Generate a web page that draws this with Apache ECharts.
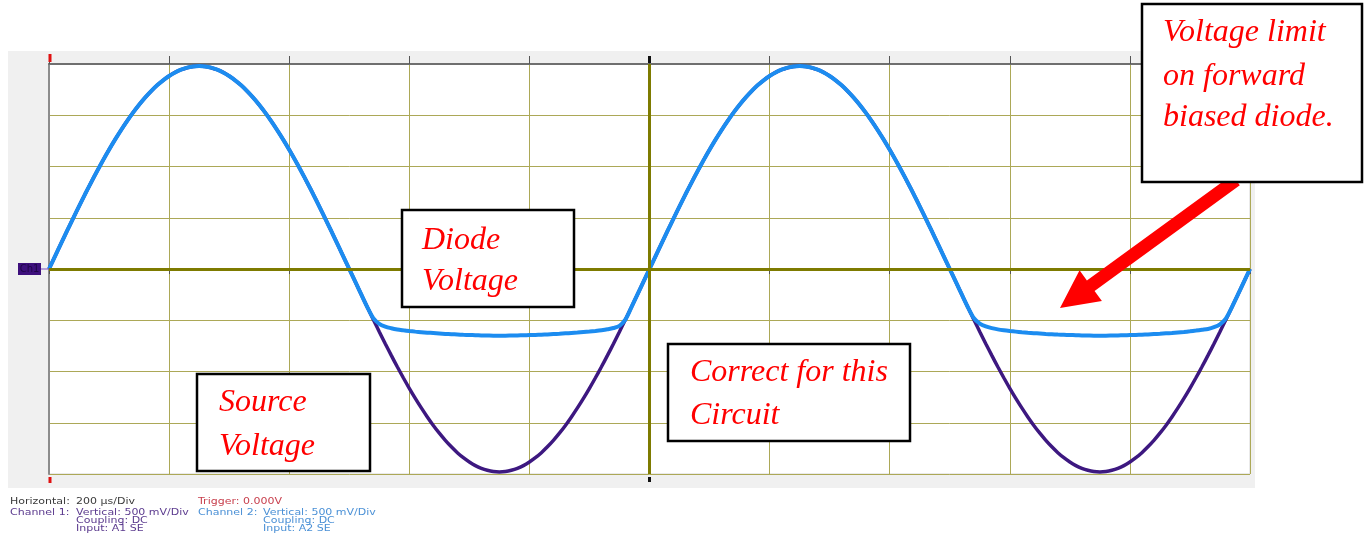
<!DOCTYPE html>
<html>
<head>
<meta charset="utf-8">
<script src="https://cdn.jsdelivr.net/npm/echarts@6/dist/echarts.min.js"></script>
<style>
html,body{margin:0;padding:0;background:#ffffff;}
#c{width:1367px;height:538px;}
</style>
</head>
<body>
<div id="c"></div>
<script>
// ---- data (time in microseconds, voltages in volts) ----
const timeUs = [
0,10,20,30,40,50,60,70,80,90,100,110,120,130,140,150,160,170,180,190,
200,210,220,230,240,250,260,270,280,290,300,310,320,330,340,350,360,370,380,390,
400,410,420,430,440,450,460,470,480,490,500,510,520,530,540,550,560,570,580,590,
600,610,620,630,640,650,660,670,680,690,700,710,720,730,740,750,760,770,780,790,
800,810,820,830,840,850,860,870,880,890,900,910,920,930,940,950,960,970,980,990,
1000,1010,1020,1030,1040,1050,1060,1070,1080,1090,1100,1110,1120,1130,1140,1150,1160,1170,1180,1190,
1200,1210,1220,1230,1240,1250,1260,1270,1280,1290,1300,1310,1320,1330,1340,1350,1360,1370,1380,1390,
1400,1410,1420,1430,1440,1450,1460,1470,1480,1490,1500,1510,1520,1530,1540,1550,1560,1570,1580,1590,
1600,1610,1620,1630,1640,1650,1660,1670,1680,1690,1700,1710,1720,1730,1740,1750,1760,1770,1780,1790,
1800,1810,1820,1830,1840,1850,1860,1870,1880,1890,1900,1910,1920,1930,1940,1950,1960,1970,1980,1990,
2000];

const sourceV = [
0,0.124,0.248,0.371,0.492,0.612,0.729,0.843,0.954,1.061,1.164,1.262,1.355,1.443,1.526,1.602,1.672,1.735,1.792,1.841,1.883,1.918,1.945,1.964,1.976,
1.980,1.976,1.964,1.945,1.918,1.883,1.841,1.792,1.735,1.672,1.602,1.526,1.443,1.355,1.262,1.164,1.061,0.954,0.843,0.729,0.612,0.492,0.371,0.248,0.124,0,
-0.124,-0.248,-0.371,-0.492,-0.612,-0.729,-0.843,-0.954,-1.061,-1.164,-1.262,-1.355,-1.443,-1.526,-1.602,-1.672,-1.735,-1.792,-1.841,-1.883,-1.918,-1.945,-1.964,-1.976,
-1.980,-1.976,-1.964,-1.945,-1.918,-1.883,-1.841,-1.792,-1.735,-1.672,-1.602,-1.526,-1.443,-1.355,-1.262,-1.164,-1.061,-0.954,-0.843,-0.729,-0.612,-0.492,-0.371,-0.248,-0.124,0,
0.124,0.248,0.371,0.492,0.612,0.729,0.843,0.954,1.061,1.164,1.262,1.355,1.443,1.526,1.602,1.672,1.735,1.792,1.841,1.883,1.918,1.945,1.964,1.976,
1.980,1.976,1.964,1.945,1.918,1.883,1.841,1.792,1.735,1.672,1.602,1.526,1.443,1.355,1.262,1.164,1.061,0.954,0.843,0.729,0.612,0.492,0.371,0.248,0.124,0,
-0.124,-0.248,-0.371,-0.492,-0.612,-0.729,-0.843,-0.954,-1.061,-1.164,-1.262,-1.355,-1.443,-1.526,-1.602,-1.672,-1.735,-1.792,-1.841,-1.883,-1.918,-1.945,-1.964,-1.976,
-1.980,-1.976,-1.964,-1.945,-1.918,-1.883,-1.841,-1.792,-1.735,-1.672,-1.602,-1.526,-1.443,-1.355,-1.262,-1.164,-1.061,-0.954,-0.843,-0.729,-0.612,-0.492,-0.371,-0.248,-0.124,0];

const diodeV = [
0,0.124,0.248,0.371,0.492,0.612,0.729,0.843,0.954,1.061,1.164,1.262,1.355,1.443,1.526,1.602,1.672,1.735,1.792,1.841,1.883,1.918,1.945,1.964,1.976,
1.980,1.976,1.964,1.945,1.918,1.883,1.841,1.792,1.735,1.672,1.602,1.526,1.443,1.355,1.262,1.164,1.061,0.954,0.843,0.729,0.612,0.492,0.371,0.248,0.124,0,
-0.124,-0.248,-0.371,-0.480,-0.535,-0.562,-0.578,-0.590,-0.598,-0.605,-0.611,-0.616,-0.621,-0.625,-0.629,-0.633,-0.636,-0.639,-0.642,-0.644,
-0.646,-0.648,-0.649,-0.650,-0.650,-0.650,-0.649,-0.648,-0.647,-0.645,-0.643,-0.641,-0.638,-0.635,-0.632,-0.628,-0.624,-0.620,-0.615,-0.610,
-0.604,-0.597,-0.588,-0.576,-0.555,-0.492,-0.371,-0.248,-0.124,0,
0.124,0.248,0.371,0.492,0.612,0.729,0.843,0.954,1.061,1.164,1.262,1.355,1.443,1.526,1.602,1.672,1.735,1.792,1.841,1.883,1.918,1.945,1.964,1.976,
1.980,1.976,1.964,1.945,1.918,1.883,1.841,1.792,1.735,1.672,1.602,1.526,1.443,1.355,1.262,1.164,1.061,0.954,0.843,0.729,0.612,0.492,0.371,0.248,0.124,0,
-0.124,-0.248,-0.371,-0.478,-0.532,-0.560,-0.577,-0.589,-0.598,-0.605,-0.611,-0.617,-0.622,-0.626,-0.630,-0.634,-0.637,-0.640,-0.642,-0.644,
-0.646,-0.648,-0.649,-0.650,-0.650,-0.650,-0.649,-0.648,-0.647,-0.645,-0.643,-0.641,-0.638,-0.635,-0.632,-0.628,-0.624,-0.619,-0.614,-0.608,
-0.601,-0.593,-0.585,-0.568,-0.540,-0.482,-0.371,-0.248,-0.124,0];

const xTicksUs = {min:0, max:2000, step:200};
const yTicksV = {min:-2, max:2, step:0.5};

const infoLines = [
  ['Horizontal:', '200 µs/Div', 'Trigger: 0.000V'],
  ['Channel 1:', 'Vertical: 500 mV/Div', 'Channel 2:', 'Vertical: 500 mV/Div'],
  ['Coupling: DC', 'Coupling: DC'],
  ['Input: A1 SE', 'Input: A2 SE']
];

// ---- chart ----
const chart = echarts.init(document.getElementById('c'), null, {renderer:'canvas'});
const gridLine = '#aca857';
const srcPairs = timeUs.map((t,i)=>[t, sourceV[i]]);
const dioPairs = timeUs.map((t,i)=>[t, diodeV[i]]);

const annotFont = 'italic 32px "Liberation Serif", "Times New Roman", serif';
const infoFont = '11px "DejaVu Sans", Verdana, sans-serif';

function box(x,y,w,h){
  return {type:'rect', z:50, shape:{x:x,y:y,width:w,height:h}, style:{fill:'#ffffff', stroke:'#000000', lineWidth:2.5}};
}
function annot(txt,x,y){
  return {type:'text', z:51, x:x, y:y, style:{text:txt, font:annotFont, fill:'#ff0000', align:'left', verticalAlign:'middle'}};
}
function info(txt,x,y,color){
  return {type:'text', z:51, x:x, y:y, scaleY:0.75, style:{text:txt, font:infoFont, fill:color, align:'left', verticalAlign:'middle'}};
}

// arrow polygon from tail to tip
function arrow(tail, tip, halfShaft, headLen, halfHead){
  const dx = tip[0]-tail[0], dy = tip[1]-tail[1];
  const L = Math.sqrt(dx*dx+dy*dy);
  const ux = dx/L, uy = dy/L, nx = -uy, ny = ux;
  const bx = tip[0]-ux*headLen, by = tip[1]-uy*headLen;
  const pts = [
    [tail[0]+nx*halfShaft, tail[1]+ny*halfShaft],
    [bx+nx*halfShaft, by+ny*halfShaft],
    [bx+nx*halfHead, by+ny*halfHead],
    tip,
    [bx-nx*halfHead, by-ny*halfHead],
    [bx-nx*halfShaft, by-ny*halfShaft],
    [tail[0]-nx*halfShaft, tail[1]-ny*halfShaft]
  ];
  return {type:'polygon', z:49, shape:{points:pts}, style:{fill:'#ff0000'}};
}

const staticGraphics = [
  {type:'rect', z:-100, shape:{x:8,y:51,width:1247,height:437}, style:{fill:'#f0f0f0'}},
  arrow([1236,180],[1060,308],6.5,38,19),
  box(402,210,172,97), annot('Diode',422,240.5), annot('Voltage',422,281.5),
  box(197,374,173,97), annot('Source',219,402.5), annot('Voltage',219,446.5),
  box(668,344,242,97), annot('Correct for this',690,372.5), annot('Circuit',690,415.5),
  box(1142,4,220,178), annot('Voltage limit',1163,32.5), annot('on forward',1163,76.5), annot('biased diode.',1163,117.5),
  info(infoLines[0][0],10,501.5,'#3a3a3a'), info(infoLines[0][1],76,501.5,'#3a3a3a'), info(infoLines[0][2],198,501.5,'#c8404e'),
  info(infoLines[1][0],10,512.5,'#5b3a8e'), info(infoLines[1][1],76,512.5,'#5b3a8e'),
  info(infoLines[1][2],198,512.5,'#4a90d6'), info(infoLines[1][3],263,512.5,'#4a90d6'),
  info(infoLines[2][0],76,521,'#5b3a8e'), info(infoLines[2][1],263,521,'#4a90d6'),
  info(infoLines[3][0],76,529,'#5b3a8e'), info(infoLines[3][1],263,529,'#4a90d6')
];

const option = {
  animation:false,
  backgroundColor:'#ffffff',
  grid:{left:49, top:64, width:1201, height:410, show:true, backgroundColor:'#ffffff', borderColor:'#d4d4d4', borderWidth:1},
  xAxis:[
    {type:'value', position:'top', min:xTicksUs.min, max:xTicksUs.max, interval:xTicksUs.step,
     axisLine:{show:true, onZero:false, lineStyle:{color:'#6f6f6f', width:2}},
     axisTick:{show:true, length:8, lineStyle:{color:'#555555', width:1}},
     axisLabel:{show:false},
     splitLine:{show:true, lineStyle:{color:gridLine, width:1}}},
    {type:'value', position:'bottom', min:xTicksUs.min, max:xTicksUs.max, interval:xTicksUs.step, offset:3,
     axisLine:{show:false},
     axisTick:{show:true, length:5, lineStyle:{color:'#555555', width:1}},
     axisLabel:{show:false}, splitLine:{show:false}}
  ],
  yAxis:[
    {type:'value', min:yTicksV.min, max:yTicksV.max, interval:yTicksV.step,
     axisLine:{show:true, onZero:false, lineStyle:{color:'#8c8c8c', width:2}},
     axisTick:{show:false}, axisLabel:{show:false},
     splitLine:{show:true, lineStyle:{color:gridLine, width:1}}}
  ],
  series:[
    {type:'line', name:'center', data:[], z:1, silent:true,
     markLine:{silent:true, symbol:'none', label:{show:false}, animation:false,
       lineStyle:{type:'solid', color:'#7e7b00', width:3},
       data:[{yAxis:0},{xAxis:1000}]}},
    {type:'line', name:'Source Voltage', data:srcPairs, showSymbol:false, smooth:0.3, z:3,
     lineStyle:{color:'#3d1880', width:3.5}},
    {type:'line', name:'Diode Voltage', data:dioPairs, showSymbol:false, smooth:0.3, z:4,
     lineStyle:{color:'#1c8cf0', width:4}}
  ],
  graphic:{elements:staticGraphics}
};
chart.setOption(option);

// axis-anchored markers (trigger position, centre tick, channel 1 ground marker)
const x0 = chart.convertToPixel({xAxisIndex:0}, 0);
const xc = chart.convertToPixel({xAxisIndex:0}, 1000);
const y0 = chart.convertToPixel({yAxisIndex:0}, 0);
const yTop = chart.convertToPixel({yAxisIndex:0}, 2);
const yBot = chart.convertToPixel({yAxisIndex:0}, -2);
const dyn = [
  {type:'line', z:20, shape:{x1:x0+1,y1:yTop-10,x2:x0+1,y2:yTop-2}, style:{stroke:'#e01010', lineWidth:3}},
  {type:'line', z:20, shape:{x1:x0+1,y1:yBot+3,x2:x0+1,y2:yBot+9}, style:{stroke:'#e01010', lineWidth:3}},
  {type:'line', z:20, shape:{x1:xc,y1:yTop-8,x2:xc,y2:yTop-1}, style:{stroke:'#111111', lineWidth:3}},
  {type:'line', z:20, shape:{x1:xc,y1:yBot+3,x2:xc,y2:yBot+8}, style:{stroke:'#111111', lineWidth:3}},
  {type:'line', z:20, shape:{x1:41,y1:y0,x2:x0,y2:y0}, style:{stroke:'#7a4fc0', lineWidth:1}},
  {type:'line', z:2, shape:{x1:x0,y1:y0,x2:x0+9,y2:y0}, style:{stroke:'#e04040', lineWidth:2}},
  {type:'rect', z:20, shape:{x:18,y:y0-6,width:23,height:12}, style:{fill:'#3d0f7c'}},
  {type:'text', z:21, x:29.5, y:y0, style:{text:'Ch1', font:'10px "DejaVu Sans", sans-serif', fill:'#1e0548', align:'center', verticalAlign:'middle'}}
];
chart.setOption({graphic:{elements:staticGraphics.concat(dyn)}}, {replaceMerge:['graphic']});
</script>
</body>
</html>
